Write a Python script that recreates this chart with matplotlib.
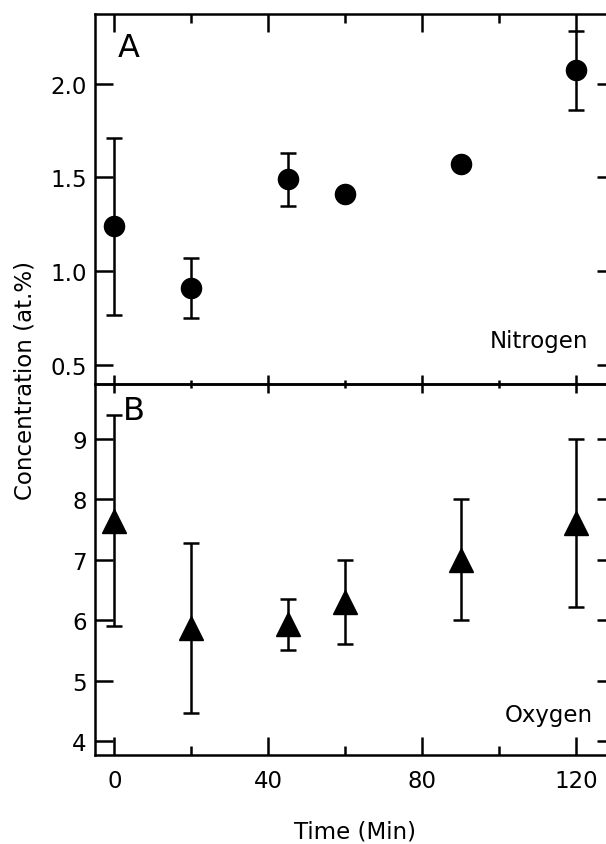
import matplotlib
matplotlib.use('Agg')
import matplotlib.pyplot as plt
from matplotlib.ticker import MultipleLocator, FormatStrFormatter

plt.rcParams['font.family'] = ['DejaVu Sans']

# Nitrogen (panel A); 0 = no error bar shown
n_time = [0, 20, 45, 60, 90, 120]
n_conc = [1.24, 0.91, 1.49, 1.41, 1.57, 2.07]
n_err = [0.47, 0.16, 0.14, 0.0, 0.0, 0.21]

# Oxygen (panel B)
o_time = [0, 20, 45, 60, 90, 120]
o_conc = [7.65, 5.87, 5.93, 6.30, 7.00, 7.61]
o_err = [1.74, 1.41, 0.42, 0.70, 1.00, 1.39]

fs = 16.5
lw = 1.8


def draw_points(ax, t, c, e, marker, ms):
    tt = [a for a, b in zip(t, e) if b > 0]
    cc = [a for a, b in zip(c, e) if b > 0]
    ee = [b for b in e if b > 0]
    ax.errorbar(tt, cc, yerr=ee, fmt='none', ecolor='black',
                elinewidth=lw, capsize=5.8, capthick=lw)
    ax.plot(t, c, marker, color='black', ms=ms, linestyle='none')


fig = plt.figure(figsize=(6.06, 8.45), dpi=100)
axB = fig.add_axes([0.1568, 0.1053, 0.858, 0.4391])
axA = fig.add_axes([0.1568, 0.5444, 0.858, 0.4378])
axA.patch.set_alpha(0)
axB.patch.set_alpha(0)

for ax in (axA, axB):
    for s in ax.spines.values():
        s.set_linewidth(lw)
    ax.set_xlim(-5, 130)
    ax.xaxis.set_major_locator(MultipleLocator(40))
    ax.xaxis.set_minor_locator(MultipleLocator(20))
    ax.tick_params(axis='both', which='major', labelsize=fs, width=lw, length=13, direction='in')
    ax.tick_params(axis='both', which='minor', width=lw, length=6.5, direction='in')
    ax.tick_params(axis='y', which='both', left=True, right=True, pad=6)

# panel A
draw_points(axA, n_time, n_conc, n_err, 'o', 14.5)
axA.set_ylim(0.40, 2.37)
axA.set_yticks([0.5, 1.0, 1.5, 2.0])
axA.yaxis.set_major_formatter(FormatStrFormatter('%.1f'))
axA.tick_params(axis='x', which='both', top=True, bottom=False, labelbottom=False)
axA.text(0.044, 0.886, 'A', transform=axA.transAxes, fontsize=23, va='baseline', ha='left')
axA.text(0.948, 0.10, 'Nitrogen', transform=axA.transAxes, fontsize=fs, ha='right', va='baseline')

# panel B
draw_points(axB, o_time, o_conc, o_err, '^', 17)
axB.set_ylim(3.77, 9.91)
axB.set_yticks([4, 5, 6, 7, 8, 9])
axB.tick_params(axis='x', which='both', top=False, bottom=True, pad=10)
axB.spines['top'].set_visible(False)
axB.set_xlabel('Time (Min)', fontsize=fs, labelpad=20)
axB.text(0.054, 0.906, 'B', transform=axB.transAxes, fontsize=23, va='baseline', ha='left')
axB.text(0.958, 0.092, 'Oxygen', transform=axB.transAxes, fontsize=fs, ha='right', va='baseline')

# crossing ticks on the shared boundary
sec = axB.secondary_xaxis('top')
sec.xaxis.set_major_locator(MultipleLocator(40))
sec.xaxis.set_minor_locator(MultipleLocator(20))
sec.spines['top'].set_linewidth(lw)
sec.tick_params(which='major', direction='inout', length=13, width=lw, labeltop=False)
sec.tick_params(which='minor', direction='inout', length=6, width=lw)

fig.text(0.041, 0.55, 'Concentration (at.%)', rotation=90, fontsize=fs, ha='center', va='center')

plt.savefig('out.png', dpi=100)
